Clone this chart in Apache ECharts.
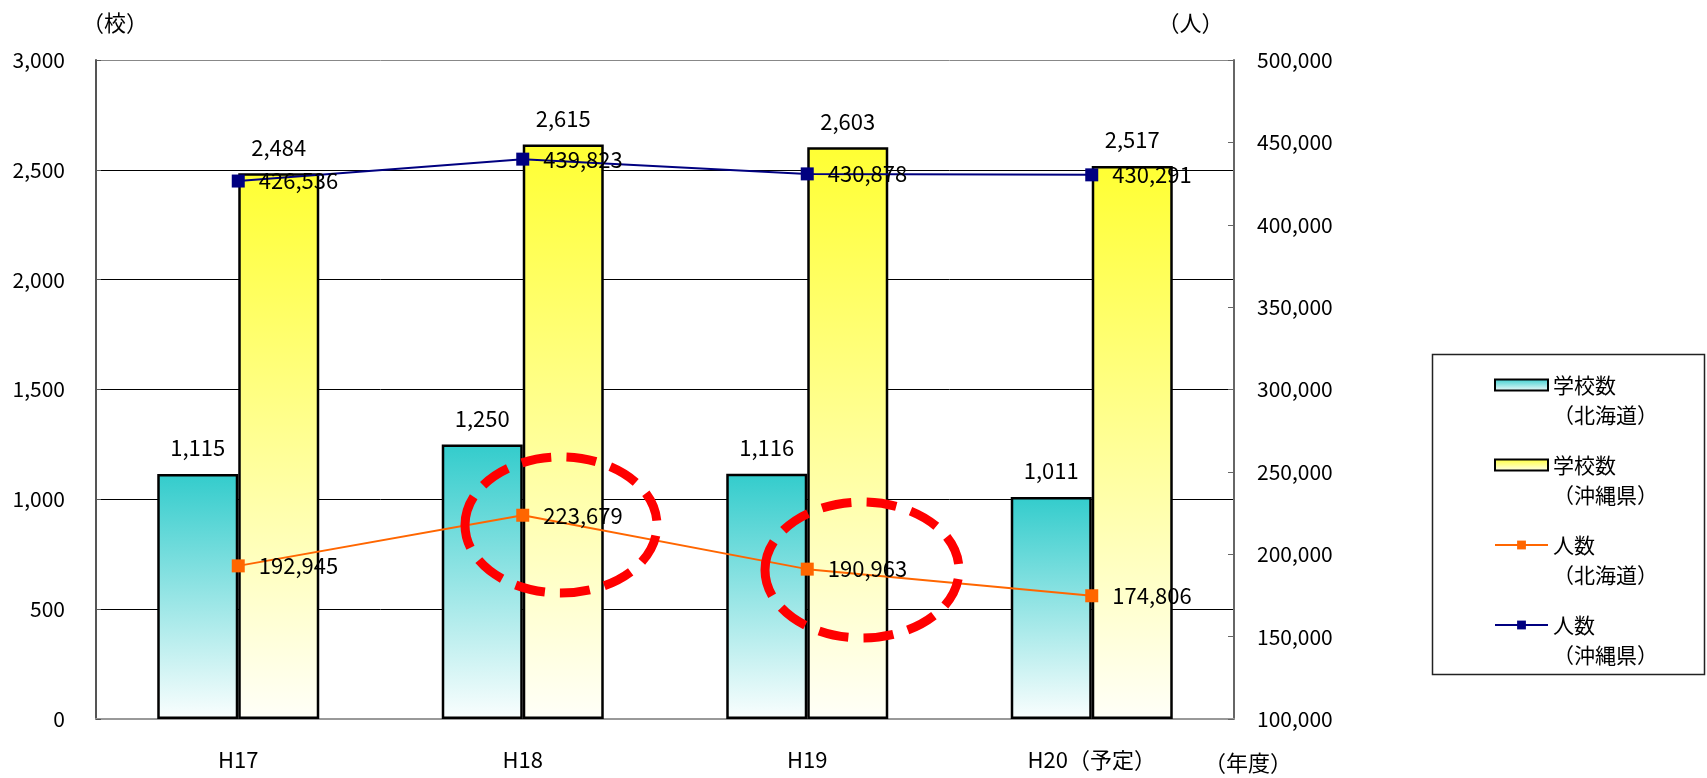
<!DOCTYPE html>
<html><head><meta charset="utf-8">
<script src="https://cdn.jsdelivr.net/npm/echarts@6/dist/echarts.min.js"></script>
<style>html,body{margin:0;padding:0;background:#fff}#c{width:1707px;height:778px}</style>
</head><body><div id="c"></div>
<script>
const categories = ['H17', 'H18', 'H19', 'H20（予定）'];
const schoolsHokkaido = [1115, 1250, 1116, 1011];
const schoolsOkinawa = [2484, 2615, 2603, 2517];
const peopleHokkaido = [192945, 223679, 190963, 174806];
const peopleOkinawa = [426536, 439823, 430878, 430291];
const seriesNames = ['学校数（北海道）', '学校数（沖縄県）', '人数（北海道）', '人数（沖縄県）'];
const leftTicks = { min: 0, max: 3000, interval: 500 };
const rightTicks = { min: 100000, max: 500000, interval: 50000 };

const FONT = '"Noto Sans CJK JP", "Noto Sans", sans-serif';
const fmt = v => Number(v).toLocaleString('en-US');
const chart = echarts.init(document.getElementById('c'));

const tealGrad = new echarts.graphic.LinearGradient(0, 0, 0, 1, [
  { offset: 0, color: '#33CCCC' }, { offset: 1, color: '#FAFEFE' }]);
const yellowGrad = new echarts.graphic.LinearGradient(0, 0, 0, 1, [
  { offset: 0, color: '#FFFF33' }, { offset: 1, color: '#FFFFF8' }]);

const numLabel = { fontFamily: FONT, fontSize: 22, color: '#000' };
const tickLabel = { fontFamily: FONT, fontSize: 21, color: '#000' };

chart.setOption({
  animation: false,
  textStyle: { fontFamily: FONT },
  grid: { left: 96, right: 473, top: 60, bottom: 59, containLabel: false, outerBoundsMode: 'none' },
  legend: {
    orient: 'vertical', left: 1494, top: 340, padding: 0,
    itemWidth: 53, itemHeight: 11, itemGap: -10,
    data: [
      { name: seriesNames[0], icon: 'rect' },
      { name: seriesNames[1], icon: 'rect' },
      { name: seriesNames[2] },
      { name: seriesNames[3] }
    ],
    formatter: n => '\n' + n.replace('（', '\n（'),
    textStyle: { fontFamily: FONT, fontSize: 21, lineHeight: 30, color: '#000' }
  },
  xAxis: {
    type: 'category', data: categories,
    name: '\n（年度）', nameLocation: 'end', nameGap: 0, nameMoveOverlap: false,
    nameTextStyle: { fontFamily: FONT, fontSize: 22, lineHeight: 88, color: '#000', align: 'center', verticalAlign: 'middle', padding: [0, 0, 0, 28] },
    axisLine: { lineStyle: { color: '#999', width: 2 } },
    axisTick: { inside: true, length: 6, lineStyle: { color: '#000' } },
    axisLabel: { margin: 30, fontSize: 22, fontFamily: FONT, color: '#000' }
  },
  yAxis: [{
    type: 'value', position: 'left', min: leftTicks.min, max: leftTicks.max, interval: leftTicks.interval,
    name: '（校）', nameLocation: 'end', nameGap: 37,
    nameTextStyle: { fontFamily: FONT, fontSize: 22, color: '#000', align: 'center', verticalAlign: 'middle', padding: [0, 0, 0, 38] },
    axisLine: { show: true, lineStyle: { color: '#555', width: 2 } },
    axisTick: { show: true, inside: true, length: 5, lineStyle: { color: '#555' } },
    axisLabel: Object.assign({ margin: 31, formatter: fmt }, tickLabel),
    splitLine: { show: true, lineStyle: { color: ['#999', '#000', '#000', '#000', '#000', '#000', '#888'], width: 1 } }
  }, {
    type: 'value', position: 'right', min: rightTicks.min, max: rightTicks.max, interval: rightTicks.interval,
    name: '（人）', nameLocation: 'end', nameGap: 37,
    nameTextStyle: { fontFamily: FONT, fontSize: 22, color: '#000', align: 'center', verticalAlign: 'middle', padding: [0, 87, 0, 0] },
    axisLine: { show: true, lineStyle: { color: '#666', width: 2 } },
    axisTick: { show: true, inside: true, length: 6, lineStyle: { color: '#666' } },
    axisLabel: Object.assign({ margin: 23, formatter: fmt }, tickLabel),
    splitLine: { show: false }
  }],
  series: [{
    name: seriesNames[0], type: 'bar', yAxisIndex: 0, data: schoolsHokkaido,
    barWidth: 81, barGap: '0%',
    itemStyle: { color: tealGrad, borderColor: '#000', borderWidth: 2.5 },
    label: Object.assign({ show: true, position: 'top', distance: 15, formatter: p => fmt(p.value) }, numLabel)
  }, {
    name: seriesNames[1], type: 'bar', yAxisIndex: 0, data: schoolsOkinawa,
    barWidth: 81, barGap: '0%',
    itemStyle: { color: yellowGrad, borderColor: '#000', borderWidth: 2.5 },
    label: Object.assign({ show: true, position: 'top', distance: 15, formatter: p => fmt(p.value) }, numLabel)
  }, {
    name: seriesNames[2], type: 'line', yAxisIndex: 1, data: peopleHokkaido,
    symbol: 'rect', symbolSize: 13, z: 5,
    lineStyle: { color: '#FF6600', width: 2 }, itemStyle: { color: '#FF6600' },
    label: Object.assign({ show: true, position: 'right', distance: 14, formatter: p => fmt(p.value) }, numLabel)
  }, {
    name: seriesNames[3], type: 'line', yAxisIndex: 1, data: peopleOkinawa,
    symbol: 'rect', symbolSize: 13, z: 5,
    lineStyle: { color: '#000080', width: 2 }, itemStyle: { color: '#000080' },
    label: Object.assign({ show: true, position: 'right', distance: 14, formatter: p => fmt(p.value) }, numLabel)
  }],
  graphic: [
    { type: 'rect', left: 1430, top: 352, z: 0, silent: true,
      shape: { width: 272, height: 320 }, style: { fill: 'none', stroke: '#222', lineWidth: 1.5 } },
    { type: 'ellipse', z: 100, silent: true, shape: { cx: 561, cy: 525, rx: 96, ry: 68 },
      style: { fill: 'none', stroke: '#FF0000', lineWidth: 9, lineDash: [30, 15] } },
    { type: 'ellipse', z: 100, silent: true, shape: { cx: 862, cy: 570, rx: 97, ry: 68 },
      style: { fill: 'none', stroke: '#FF0000', lineWidth: 9, lineDash: [30, 15] } }
  ]
});
</script></body></html>
